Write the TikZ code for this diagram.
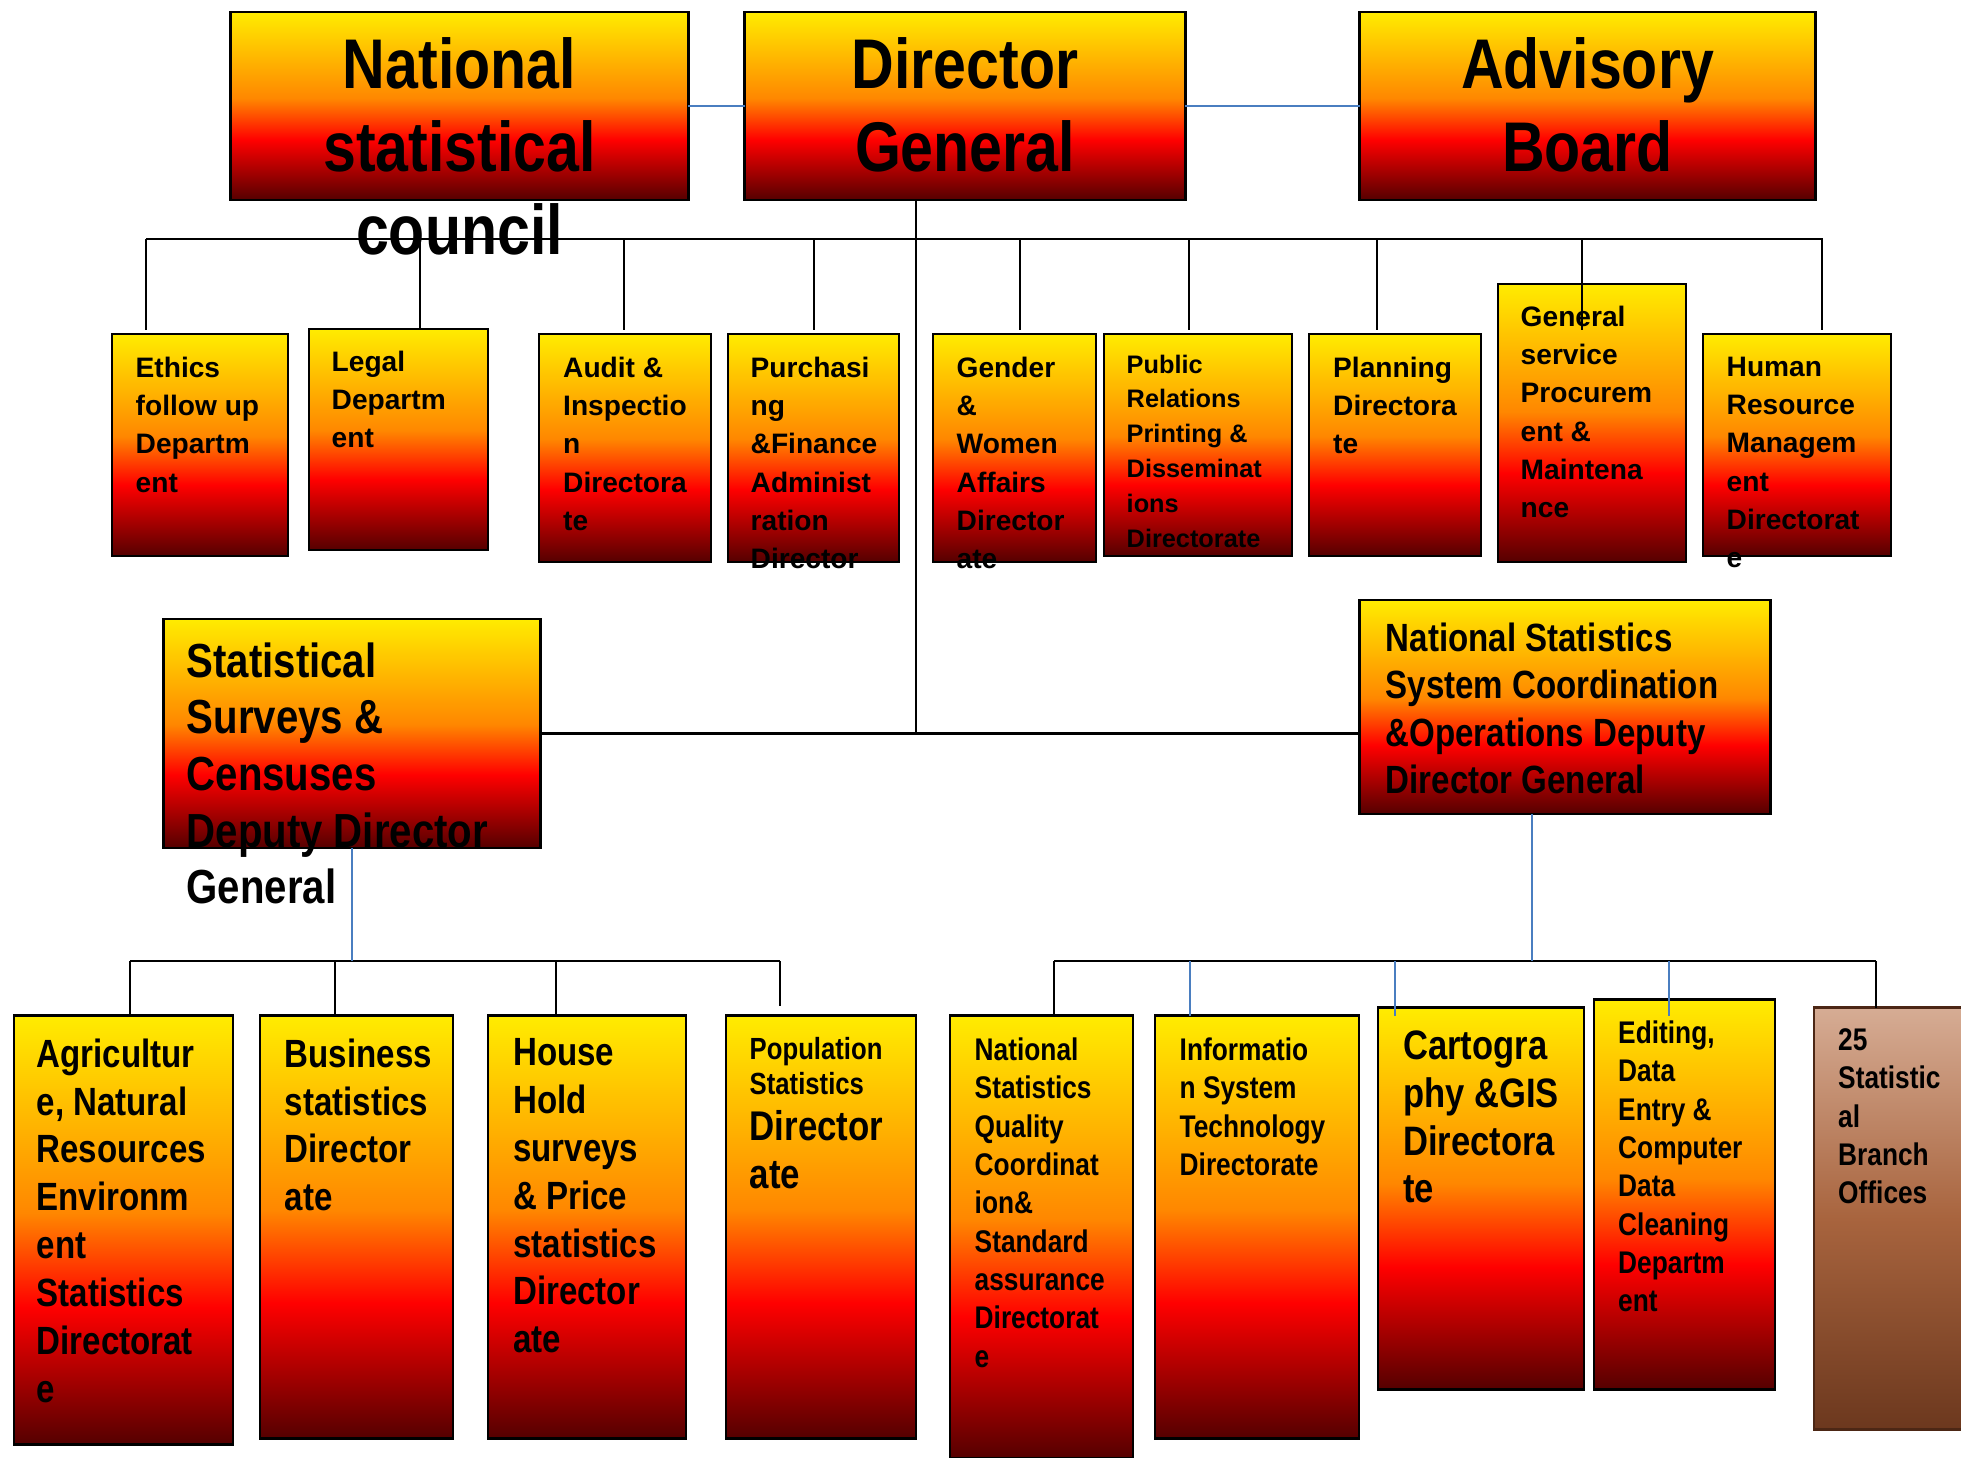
\documentclass[tikz,border=0pt]{standalone}
\usepackage{fontspec}
\newfontfamily\orgfont{Liberation Sans}[FakeStretch=0.84]
\newfontfamily\plainfont{Liberation Sans}
\definecolor{fireY}{RGB}{255,236,0}
\definecolor{fireO}{RGB}{255,135,0}
\definecolor{fireR}{RGB}{255,0,0}
\definecolor{fireC}{RGB}{85,0,0}
\definecolor{brownT}{RGB}{214,172,148}
\definecolor{brownM}{RGB}{168,100,62}
\definecolor{brownB}{RGB}{108,56,30}
\definecolor{linkblue}{RGB}{74,126,192}
\pgfdeclareverticalshading{fire}{100bp}{color(0bp)=(fireC); color(25bp)=(fireC); color(41bp)=(fireR); color(52bp)=(fireO); color(75bp)=(fireY); color(100bp)=(fireY)}

\begin{document}
\begin{tikzpicture}[x=0.01cm, y=-0.01cm,
    firebox/.style={draw=black, line width=0.8pt, shade, shading=fire, inner sep=0pt, outer sep=0pt},
    brownbox/.style={draw=brownB!70!black, line width=0.8pt, top color=brownT, bottom color=brownB, middle color=brownM, inner sep=0pt, outer sep=0pt},
    headtxt/.style={inner sep=0pt, anchor=north, align=center, font=\orgfont\bfseries\fontsize{20}{23.6}\selectfont},
    unittxt/.style={inner sep=0pt, anchor=north west, align=left, font=\plainfont\bfseries\fontsize{8}{10.9}\selectfont},
    deputytxt/.style={inner sep=0pt, anchor=north west, align=left, font=\orgfont\bfseries\fontsize{13.6}{16.1}\selectfont},
    bigtxt/.style={inner sep=0pt, anchor=north west, align=left, font=\orgfont\bfseries\fontsize{11.2}{13.6}\selectfont},
    smalltxt/.style={inner sep=0pt, anchor=north west, align=left, font=\orgfont\bfseries\fontsize{8.9}{10.9}\selectfont},
    bus/.style={line width=0.6pt},
    drop/.style={line width=0.45pt},
    link/.style={line width=0.45pt, draw=linkblue}]

\path[use as bounding box, fill=white] (0,0) rectangle (1961,1458);

\node[firebox, minimum width=45.7mm, minimum height=18.8mm] (nsc) at (459.5,106) {};
\node[firebox, minimum width=44mm, minimum height=18.8mm] (dg) at (965,106) {};
\node[firebox, minimum width=45.5mm, minimum height=18.8mm] (ab) at (1587.5,106) {};

\foreach \n/\cx/\cy/\w/\h in {ethics/200/445/17.6/22.2, legal/398.5/439.5/17.9/22.1,
    audit/625/448/17.2/22.8, purch/813.5/448/17.1/22.8, gender/1014.5/448/16.3/22.8,
    pubrel/1198/445/18.8/22.2, planning/1395/445/17.2/22.2, gensrv/1592/423/18.8/27.8,
    hrm/1797/445/18.8/22.2, ssc/352/733.5/37.6/22.9, nss/1565/707/41/21.4,
    agri/123.5/1230/21.9/42.8, busstat/356.5/1227/19.3/42.2, hhold/587/1227/19.8/42.2,
    popstat/821/1227/19/42.2, nsq/1041.5/1237/18.3/44.2, infosys/1257/1227/20.4/42.2,
    carto/1481/1198.5/20.6/38.1, editing/1684.5/1194.5/18.1/38.9}
  \node[firebox, minimum width=\w mm, minimum height=\h mm] (\n) at (\cx,\cy) {};
\node[brownbox, minimum width=15mm, minimum height=42.1mm] (branch) at (1889,1218.5) {};

\draw[link, line width=0.7pt] (nsc) -- (dg);
\draw[link, line width=0.7pt] (dg) -- (ab);

\coordinate (trunk) at (916,733.5);
\draw[drop] (trunk |- dg.south) -- (trunk);
\draw[bus] (ssc.east) -- (ssc.east -| nss.west);

\coordinate (bus1w) at (146,239);
\coordinate (bus1e) at (1823,239);
\coordinate (row2top) at (0,330);
\draw[bus] (bus1w) -- (bus1e);
\foreach \x/\n in {146/ethics, 420/legal, 624/audit, 814/purch, 1020/gender,
    1189/pubrel, 1377/planning, 1582/gensrv, 1822/hrm}{
  \coordinate (t-\n) at (\x,239);
  \draw[drop] (t-\n) -- (t-\n |- row2top);
}

\coordinate (bus2w) at (130,961);
\coordinate (bus2e) at (780,961);
\coordinate (popgap) at (780,1006);
\draw[bus] (bus2w) -- (bus2e);
\draw[link] (ssc.south) -- (ssc.south |- bus2w);
\foreach \x/\n in {130/agri, 335/busstat, 556/hhold}{
  \coordinate (s-\n) at (\x,961);
  \draw[drop] (s-\n) -- (s-\n |- \n.north);
}
\draw[drop] (bus2e) -- (popgap);

\coordinate (bus3w) at (1054,961);
\coordinate (bus3e) at (1876,961);
\coordinate (nssfoot) at (1532,961);
\coordinate (row3top) at (0,1016);
\draw[bus] (bus3w) -- (bus3e);
\draw[link] (nssfoot |- nss.south) -- (nssfoot);
\draw[drop] (bus3w) -- (bus3w |- nsq.north);
\draw[drop] (bus3e) -- (bus3e |- branch.north);
\foreach \x/\n in {1190/infosys, 1395/carto, 1669/editing}{
  \coordinate (n-\n) at (\x,961);
  \draw[link] (n-\n) -- (n-\n |- row3top);
}

\node[headtxt] (nsc-t) at (459.5,37) {National\\statistical\\council};
\node[headtxt] (dg-t) at (965,37) {Director\\General};
\node[headtxt] (ab-t) at (1587.5,37) {Advisory\\Board};

\node[unittxt] (ethics-t) at (135,356) {Ethics\\follow up\\Departm\\ent};
\node[unittxt] (legal-t) at (331,350) {Legal\\Departm\\ent};
\node[unittxt] (audit-t) at (562.5,356) {Audit \&\\Inspectio\\n\\Directora\\te};
\node[unittxt] (purch-t) at (750,356) {Purchasi\\ng\\\&Finance\\Administ\\ration\\Director};
\node[unittxt] (gender-t) at (956,356) {Gender\\\&\\Women\\Affairs\\Director\\ate};
\node[unittxt, font=\plainfont\bfseries\fontsize{7.2}{9.9}\selectfont] (pubrel-t) at (1126,354) {Public\\Relations\\Printing \&\\Disseminat\\ions\\Directorate};
\node[unittxt] (planning-t) at (1332.5,356) {Planning\\Directora\\te};
\node[unittxt] (gensrv-t) at (1520,305) {General\\service\\Procurem\\ent \&\\Maintena\\nce};
\node[unittxt] (hrm-t) at (1726,356) {Human\\Resource\\Managem\\ent\\Directorat\\e};

\node[deputytxt] (ssc-t) at (186,642) {Statistical\\Surveys \&\\Censuses\\Deputy Director\\General};
\node[deputytxt, font=\orgfont\bfseries\fontsize{11.2}{13.5}\selectfont] (nss-t) at (1385,622) {National Statistics\\System Coordination\\\&Operations Deputy\\Director General};

\node[bigtxt] (agri-t) at (36,1038) {Agricultur\\e, Natural\\Resources\\Environm\\ent\\Statistics\\Directorat\\e};
\node[bigtxt] (busstat-t) at (284,1038) {Business\\statistics\\Director\\ate};
\node[bigtxt] (hhold-t) at (512.5,1038) {House\\Hold\\surveys\\\& Price\\statistics\\Director\\ate};
\node[smalltxt, font=\orgfont\bfseries\fontsize{8.7}{9.9}\selectfont] (popstat-t) at (749,1037) {Population\\Statistics};
\node[bigtxt, font=\orgfont\bfseries\fontsize{11.8}{13.5}\selectfont] (popstat-t2) at (749,1110) {Director\\ate};
\node[smalltxt] (nsq-t) at (974,1037) {National\\Statistics\\Quality\\Coordinat\\ion\&\\Standard\\assurance\\Directorat\\e};
\node[smalltxt] (infosys-t) at (1179,1037) {Informatio\\n System\\Technology\\Directorate};
\node[bigtxt, font=\orgfont\bfseries\fontsize{11.7}{13.6}\selectfont] (carto-t) at (1402.5,1030) {Cartogra\\phy \&GIS\\Directora\\te};
\node[smalltxt] (editing-t) at (1617.5,1020) {Editing,\\Data\\Entry \&\\Computer\\Data\\Cleaning\\Departm\\ent};
\node[smalltxt] (branch-t) at (1837.5,1028) {25\\Statistic\\al\\Branch\\Offices};
\end{tikzpicture}
\end{document}
